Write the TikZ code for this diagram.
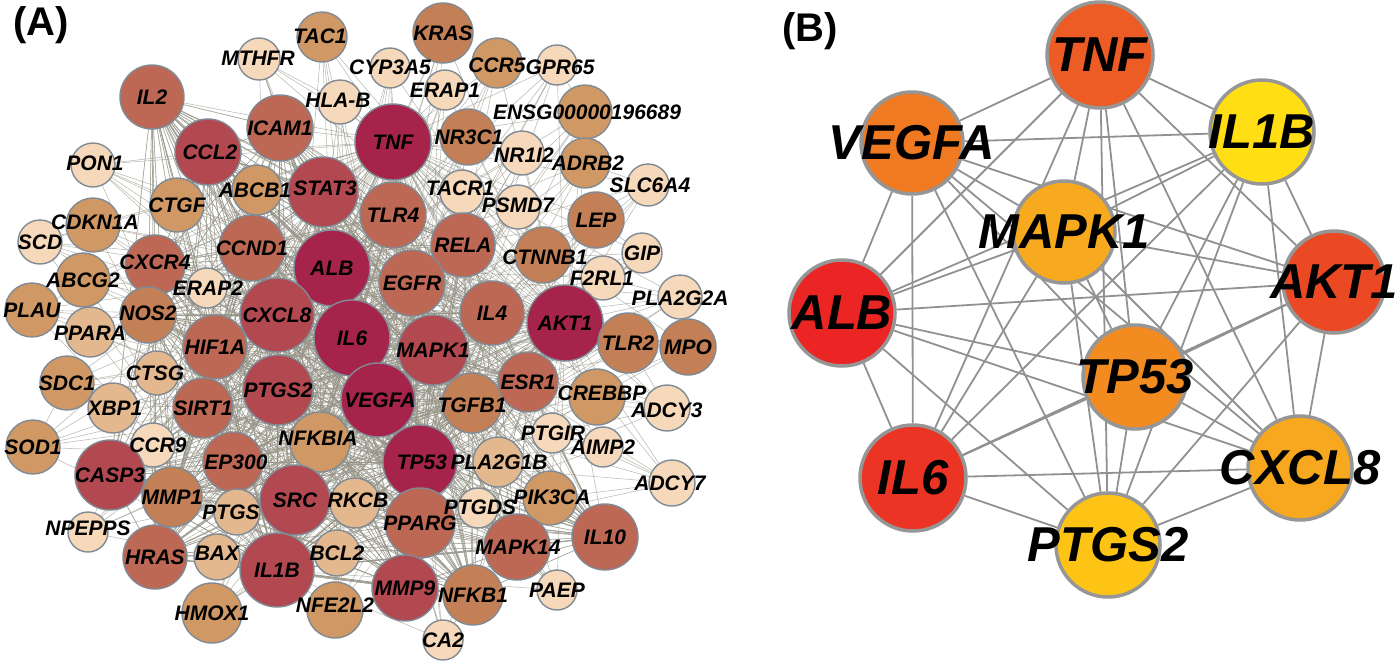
\documentclass[tikz,border=0pt]{standalone}
\usepackage{fontspec}
\setmainfont{Liberation Sans}
\usetikzlibrary{backgrounds}

% panel (A) colours
\definecolor{gL}{RGB}{246,216,186}
\definecolor{gM}{RGB}{228,184,142}
\definecolor{gT}{RGB}{207,152,100}
\definecolor{gB}{RGB}{195,128,86}
\definecolor{gR}{RGB}{188,104,84}
\definecolor{gD}{RGB}{178,72,80}
\definecolor{gC}{RGB}{166,36,76}
\definecolor{rimA}{RGB}{128,138,148}
\definecolor{lineA}{RGB}{150,148,135}
% panel (B) colours
\definecolor{cTNF}{RGB}{236,92,36}
\definecolor{cVEGFA}{RGB}{240,122,34}
\definecolor{cIL1B}{RGB}{255,222,20}
\definecolor{cMAPK1}{RGB}{248,170,30}
\definecolor{cALB}{RGB}{235,36,36}
\definecolor{cAKT1}{RGB}{235,72,36}
\definecolor{cIL6}{RGB}{235,52,36}
\definecolor{cTP53}{RGB}{243,140,32}
\definecolor{cCXCL8}{RGB}{247,168,30}
\definecolor{cPTGS2}{RGB}{253,196,22}
\definecolor{rimB}{RGB}{150,150,150}
\definecolor{lineB}{RGB}{145,145,145}

\tikzset{
  geneA/.style={circle,draw=rimA,line width=1.4pt,inner sep=0pt},
  labA/.style={font=\fontsize{21}{22}\selectfont\bfseries\itshape,inner sep=0pt},
  edgeA/.style={draw=lineA,line width=0.55pt,opacity=0.65},
  geneB/.style={circle,draw=rimB,line width=3.5pt,inner sep=0pt},
  labB/.style={font=\fontsize{49}{52}\selectfont\bfseries\itshape,inner sep=0pt},
  edgeB/.style={draw=lineB,line width=1.8pt},
  panel/.style={font=\fontsize{40}{42}\selectfont\bfseries,inner sep=0pt}
}

% name/x/y/radius/colour/text/label x/label y
\def\genesA{MTHFR/259/59/21/gL/MTHFR/258/58, TAC1/322/37/25/gT/TAC1/320/36,
 KRAS/443/33/30/gB/KRAS/443/33, CYP3A5/390/68/20/gL/CYP3A5/390/67,
 CCR5/497/63/25/gT/CCR5/497/65, GPR65/557/65/20/gL/GPR65/560/67,
 ERAP1/445/90/20/gL/ERAP1/445/90, HLAB/340/102/22/gL/HLA-B/338/100,
 ENSG/585/112/27/gT/ENSG00000196689/587/112, TNF/393/142/38/gC/TNF/393/142,
 NR3C1/468/137/28/gB/NR3C1/469/137, NR1I2/522/153/22/gL/NR1I2/524/155,
 ADRB2/585/163/25/gT/ADRB2/588/163, SLC6A4/648/185/21/gL/SLC6A4/650/185,
 TACR1/462/192/22/gL/TACR1/460/188, PSMD7/518/207/22/gL/PSMD7/518/205,
 LEP/596/220/28/gB/LEP/596/220, IL2/152/97/32/gR/IL2/152/97,
 ICAM1/280/128/33/gR/ICAM1/280/128, CCL2/208/152/33/gD/CCL2/210/152,
 PON1/93/165/22/gL/PON1/95/163, ABCB1/257/190/25/gT/ABCB1/255/190,
 STAT3/323/192/35/gD/STAT3/325/188, CTGF/177/205/27/gT/CTGF/177/205,
 CDKN1A/93/225/27/gT/CDKN1A/95/222, SCD/40/242/22/gL/SCD/40/242,
 CXCR4/155/265/30/gR/CXCR4/155/262, CCND1/252/248/33/gR/CCND1/252/248,
 ALB/332/268/38/gC/ALB/332/268, ABCG2/83/280/27/gT/ABCG2/83/280,
 ERAP2/207/288/20/gL/ERAP2/208/288, PLAU/32/310/27/gT/PLAU/32/310,
 NOS2/148/315/28/gB/NOS2/148/313, CXCL8/277/315/37/gD/CXCL8/277/315,
 PPARA/90/332/25/gM/PPARA/90/333, HIF1A/215/347/32/gR/HIF1A/215/347,
 IL6/352/338/38/gC/IL6/352/338, SDC1/67/383/27/gT/SDC1/67/383,
 CTSG/157/373/22/gM/CTSG/155/373, PTGS2/278/390/35/gD/PTGS2/278/390,
 XBP1/113/408/25/gM/XBP1/115/408, SIRT1/203/408/30/gR/SIRT1/203/408,
 SOD1/33/447/27/gT/SOD1/33/447, CCR9/153/445/22/gL/CCR9/158/445,
 CASP3/110/475/35/gD/CASP3/110/475, EP300/233/462/30/gR/EP300/236/462,
 NFKBIA/320/442/30/gT/NFKBIA/318/438, MMP1/172/497/30/gB/MMP1/172/497,
 PTGS/237/512/23/gM/PTGS/231/512, SRC/295/500/35/gD/SRC/295/500,
 RKCB/355/503/25/gM/RKCB/358/500, NPEPPS/88/532/20/gL/NPEPPS/88/528,
 HRAS/155/557/32/gR/HRAS/155/557, BAX/217/557/23/gM/BAX/217/553,
 IL1B/277/570/37/gD/IL1B/277/570, BCL2/337/553/23/gM/BCL2/337/553,
 HMOX1/212/613/30/gT/HMOX1/212/613, NFE2L2/335/610/28/gT/NFE2L2/335/605,
 TP53/420/462/37/gC/TP53/422/462, PLA2G1B/498/462/25/gM/PLA2G1B/499/462,
 PTGIR/552/433/20/gL/PTGIR/553/433, AIMP2/603/447/20/gL/AIMP2/603/447,
 ADCY7/672/483/23/gL/ADCY7/670/483, PTGDS/478/508/20/gL/PTGDS/480/507,
 PIK3CA/550/498/27/gT/PIK3CA/552/497, PPARG/420/523/35/gR/PPARG/420/523,
 MAPK14/517/547/33/gR/MAPK14/518/547, IL10/605/537/33/gR/IL10/605/537,
 MMP9/405/588/33/gD/MMP9/405/588, NFKB1/473/595/30/gB/NFKB1/473/595,
 PAEP/557/590/20/gL/PAEP/557/590, CA2/443/640/20/gL/CA2/443/640,
 TLR4/393/215/33/gR/TLR4/393/215, RELA/463/245/32/gR/RELA/463/245,
 CTNNB1/543/255/28/gB/CTNNB1/545/257, GIP/642/253/20/gL/GIP/642/253,
 EGFR/412/283/33/gR/EGFR/412/283, F2RL1/603/278/22/gL/F2RL1/602/278,
 PLA2G2A/680/297/22/gL/PLA2G2A/680/298, IL4/492/313/32/gR/IL4/492/313,
 AKT1/565/323/38/gC/AKT1/565/323, TLR2/628/343/30/gB/TLR2/628/343,
 MPO/688/347/28/gB/MPO/688/347, MAPK1/433/350/35/gD/MAPK1/433/350,
 ESR1/528/382/30/gR/ESR1/528/382, VEGFA/378/400/37/gC/VEGFA/380/400,
 TGFB1/472/403/30/gB/TGFB1/472/405, CREBBP/597/397/28/gT/CREBBP/602/393,
 ADCY3/667/408/23/gL/ADCY3/667/410}
\def\hubsA{ALB,IL6,TNF,AKT1,VEGFA,TP53,IL1B}
\def\coreA{TP53,IL1B,CXCL8,PTGS2,MAPK1,STAT3,SRC,CASP3,CCL2,EGFR,MMP9,ICAM1,TLR4,
 RELA,IL4,ESR1,PPARG,HIF1A,CCND1,SIRT1,EP300,IL10,MAPK14,HRAS,CXCR4,IL2,NFKBIA,
 TGFB1,NFKB1,MMP1,NOS2}
\def\linksA{ADCY7/AIMP2,ADCY7/PIK3CA,ADCY3/CREBBP,AIMP2/PTGIR,PAEP/MAPK14,CA2/NFKB1,
 NPEPPS/CASP3,HMOX1/IL1B,GIP/LEP,SLC6A4/ADRB2,PON1/CCL2,MTHFR/HLAB,GPR65/ENSG,
 PON1/CTGF,SCD/CDKN1A,SOD1/SDC1,ADCY3/TLR2,PLA2G2A/F2RL1}
% name/x/y/radius/colour/text
\def\genesB{bTNF/1100/55/53/cTNF/TNF, bVEGFA/912/143/51/cVEGFA/VEGFA,
 bIL1B/1262/132/52/cIL1B/IL1B, bMAPK1/1064/232/51/cMAPK1/MAPK1,
 bALB/842/313/53/cALB/ALB, bAKT1/1334/282/51/cAKT1/AKT1,
 bIL6/913/478/53/cIL6/IL6, bTP53/1135/377/52/cTP53/TP53,
 bCXCL8/1300/468/52/cCXCL8/CXCL8, bPTGS2/1108/545/52/cPTGS2/PTGS2}

\begin{document}
\begin{tikzpicture}[x=1pt,y=-1pt]
\useasboundingbox (0,0) rectangle (1400,667);

% panel (A)
\node [panel] (tagA) at (41,25) {(A)};
\foreach \nm/\x/\y/\rad/\col/\txt/\lx/\ly in \genesA
  \node [geneA,fill=\col,minimum size={2*\rad pt}] (\nm) at (\x,\y) {};
\foreach \nm/\x/\y/\rad/\col/\txt/\lx/\ly in \genesA
  \node [labA] at (\lx,\ly) {\txt};

\begin{scope}[on background layer]
\foreach \h in \hubsA
  \foreach \nm/\x/\y/\rad/\col/\txt/\lx/\ly in \genesA
    \draw [edgeA] (\h.center) -- (\nm.center);
\foreach \h in \coreA
  \foreach \k in \coreA
    \draw [edgeA] (\h.center) -- (\k.center);
\foreach \h/\k in \linksA
  \draw [edgeA] (\h.center) -- (\k.center);
\end{scope}

% panel (B)
\node [panel] (tagB) at (810,31) {(B)};
\foreach \nm/\x/\y/\rad/\col/\txt in \genesB
  \node [geneB,fill=\col,minimum size={2*\rad pt}] (\nm) at (\x,\y) {};
\foreach \nm/\x/\y/\rad/\col/\txt in \genesB
  \node [labB] at (\nm) {\txt};

\begin{scope}[on background layer]
\foreach \nm/\x/\y/\rad/\col/\txt [count=\i] in \genesB {
  \foreach \mm/\xx/\yy/\rb/\cb/\tb [count=\j] in \genesB {
    \ifnum\j>\i \draw [edgeB] (\nm) -- (\mm); \fi
  }
}
\end{scope}

\end{tikzpicture}
\end{document}
